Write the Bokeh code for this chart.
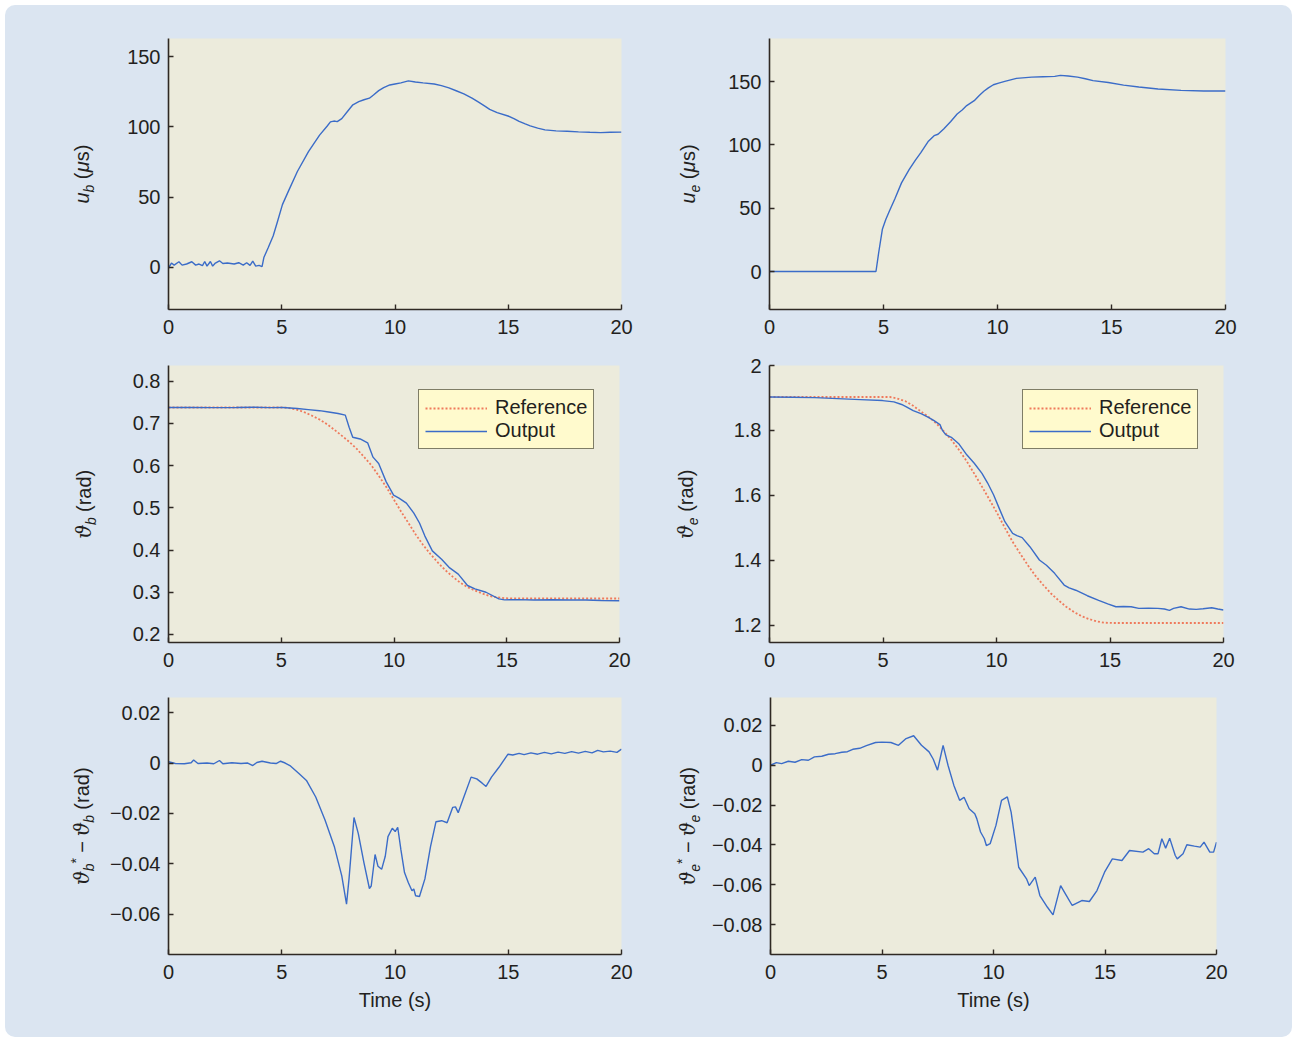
from math import pi

from bokeh.embed import file_html
from bokeh.layouts import column, row
from bokeh.models import (CustomJSTickFormatter, FixedTicker, Label, Legend,
                          LegendItem, Range1d)
from bokeh.plotting import figure
from bokeh.resources import INLINE

# ---------------------------------------------------------------- data
# control inputs (microseconds)
t_ub = [0.0, 0.13, 0.25, 0.46, 0.6, 0.8, 1.03, 1.2, 1.35, 1.5, 1.6, 1.7, 1.85, 1.95,
        2.05, 2.25, 2.4, 2.6, 2.9, 3.1, 3.3, 3.45, 3.6, 3.72, 3.85, 4.0, 4.13, 4.21,
        4.4, 4.62, 4.8, 5.03, 5.3, 5.69, 6.18, 6.67, 7.0, 7.15, 7.3, 7.45, 7.65, 7.9,
        8.14, 8.4, 8.63, 8.87, 9.05, 9.28, 9.5, 9.77, 10.0, 10.26, 10.59, 10.9, 11.24,
        11.73, 12.05, 12.38, 12.7, 13.04, 13.4, 13.69, 14.0, 14.18, 14.51, 14.99, 15.25,
        15.48, 15.75, 15.97, 16.3, 16.62, 17.11, 17.6, 18.1, 18.6, 19.08, 19.5, 20.0]
u_b = [-0.5, 3.1, 1.6, 4.0, 1.6, 2.4, 4.0, 1.6, 2.4, 1.2, 4.2, 0.9, 4.2, 0.9,
       2.8, 4.7, 2.8, 3.1, 2.4, 3.3, 1.6, 3.3, 1.4, 4.5, 0.9, 1.4, 0.5, 7.0,
       14.0, 22.4, 32.0, 44.7, 54.5, 68.3, 82.4, 94.2, 100.5, 103.6, 104.2, 103.8, 105.9, 111.0,
       115.8, 118.0, 119.4, 120.5, 122.8, 125.9, 128.0, 129.9, 130.6, 131.4, 132.8, 132.0, 131.4,
       130.6, 129.4, 127.8, 125.8, 123.6, 120.6, 117.7, 114.5, 112.5, 110.2, 107.8, 106.0,
       104.0, 102.2, 100.8, 99.2, 97.9, 97.2, 96.9, 96.5, 96.2, 96.0, 96.2, 96.3]

t_ue = [0.0, 4.67, 4.79, 4.95, 5.1, 5.26, 5.5, 5.79, 6.13, 6.4, 6.63, 6.97, 7.22, 7.39,
        7.64, 7.95, 8.23, 8.45, 8.65, 8.98, 9.2, 9.4, 9.6, 9.82, 10.05, 10.32, 10.83,
        11.5, 12.0, 12.51, 12.76, 13.1, 13.51, 13.85, 14.19, 14.86, 15.53, 16.2, 17.04,
        18.05, 19.05, 20.0]
u_e = [0.0, 0.0, 15.0, 33.3, 41.0, 47.8, 57.5, 70.0, 80.6, 88.0, 93.7, 102.9, 107.3, 108.4,
       112.6, 118.5, 124.4, 127.5, 131.0, 134.9, 139.0, 142.3, 145.0, 147.5, 148.8, 150.1, 152.5,
       153.5, 153.8, 154.1, 154.9, 154.4, 153.5, 152.2, 150.7, 149.3, 147.2, 145.7, 144.1,
       143.0, 142.5, 142.5]

# joint angles (rad): measured output and reference trajectory
t_thb = [0.0, 1.0, 2.0, 3.0, 3.8, 4.5, 5.06, 5.71, 6.2, 6.7, 7.1, 7.52, 7.84, 8.01, 8.17,
         8.5, 8.83, 9.07, 9.32, 9.65, 9.98, 10.22, 10.55, 10.88, 11.13, 11.37, 11.7, 12.11,
         12.44, 12.85, 13.26, 13.59, 14.08, 14.65, 14.9, 15.5, 16.2, 17.0, 17.8, 18.5, 19.2, 20.0]
th_b = [0.7375, 0.7378, 0.7372, 0.7376, 0.7382, 0.7372, 0.7375, 0.735, 0.7325, 0.730, 0.727,
        0.7234, 0.7195, 0.6906, 0.667, 0.663, 0.654, 0.620, 0.605, 0.562, 0.530, 0.523, 0.511,
        0.4875, 0.464, 0.433, 0.398, 0.378, 0.359, 0.343, 0.316, 0.308, 0.300, 0.2844, 0.282,
        0.2825, 0.2818, 0.2822, 0.2815, 0.2818, 0.2805, 0.2797]
t_thb_ref = [0.0, 5.0, 5.3, 5.71, 6.0, 6.37, 6.7, 7.03, 7.35, 7.68, 8.0, 8.34, 8.66, 8.99,
             9.32, 9.65, 9.98, 10.31, 10.64, 10.96, 11.29, 11.62, 11.95, 12.28, 12.6, 12.93,
             13.26, 13.59, 13.92, 14.24, 14.57, 14.9, 15.3, 20.0]
th_b_ref = [0.7375, 0.7375, 0.7368, 0.732, 0.727, 0.718, 0.709, 0.698, 0.685, 0.671, 0.657,
            0.640, 0.621, 0.601, 0.576, 0.550, 0.521, 0.4914, 0.464, 0.437, 0.412, 0.390, 0.370,
            0.352, 0.337, 0.323, 0.312, 0.304, 0.297, 0.291, 0.288, 0.286, 0.2852, 0.2852]

t_the = [0.0, 1.0, 2.0, 3.0, 4.0, 4.98, 5.48, 5.82, 6.05, 6.33, 6.7, 7.0, 7.25, 7.51, 7.62,
         7.76, 8.01, 8.35, 8.69, 9.02, 9.36, 9.61, 9.87, 10.12, 10.37, 10.71, 10.9, 11.13,
         11.47, 11.89, 12.2, 12.56, 12.98, 13.2, 13.49, 14.0, 14.5, 14.9, 15.26, 15.6, 15.93,
         16.27, 16.7, 17.11, 17.4, 17.62, 17.8, 18.13, 18.5, 18.8, 19.1, 19.48, 19.75, 20.0]
th_e = [1.903, 1.902, 1.901, 1.898, 1.895, 1.892, 1.888, 1.880, 1.872, 1.861, 1.851, 1.840,
        1.830, 1.818, 1.800, 1.787, 1.779, 1.758, 1.725, 1.699, 1.668, 1.638, 1.602, 1.560,
        1.519, 1.483, 1.476, 1.470, 1.442, 1.401, 1.385, 1.360, 1.324, 1.315, 1.308, 1.291,
        1.277, 1.266, 1.257, 1.258, 1.257, 1.252, 1.253, 1.252, 1.250, 1.246, 1.252, 1.257,
        1.250, 1.249, 1.251, 1.254, 1.250, 1.247]
t_the_ref = [0.0, 5.31, 5.6, 5.99, 6.33, 6.66, 7.0, 7.33, 7.67, 8.01, 8.35, 8.69, 9.02, 9.36,
             9.7, 10.03, 10.37, 10.71, 11.05, 11.38, 11.72, 12.06, 12.4, 12.73, 13.07, 13.41,
             13.75, 14.08, 14.42, 14.75, 15.2, 20.0]
th_e_ref = [1.903, 1.903, 1.899, 1.890, 1.876, 1.859, 1.842, 1.823, 1.798, 1.771, 1.740, 1.705,
            1.667, 1.627, 1.586, 1.545, 1.500, 1.457, 1.420, 1.385, 1.352, 1.324, 1.298, 1.277,
            1.257, 1.241, 1.228, 1.219, 1.212, 1.208, 1.207, 1.207]

# tracking errors (rad)
t_errb = [0.0, 0.3, 0.7, 1.0, 1.11, 1.3, 1.7, 2.0, 2.25, 2.4, 2.8, 3.2, 3.5, 3.72, 3.9, 4.13,
          4.5, 4.75, 4.95, 5.15, 5.36, 5.77, 6.09, 6.5, 6.91, 7.32, 7.65, 7.86, 7.97, 8.19,
          8.38, 8.63, 8.87, 8.95, 9.12, 9.25, 9.41, 9.57, 9.69, 9.88, 10.01, 10.12, 10.26,
          10.42, 10.59, 10.75, 10.83, 10.91, 11.08, 11.32, 11.57, 11.81, 12.06, 12.3, 12.55,
          12.67, 12.79, 13.04, 13.36, 13.61, 13.85, 14.02, 14.26, 14.59, 14.99, 15.2, 15.48,
          15.7, 16.0, 16.3, 16.6, 16.9, 17.2, 17.5, 17.8, 18.1, 18.4, 18.7, 18.95, 19.2, 19.5,
          19.8, 20.0]
err_b = [0.0005, -0.0002, -0.0003, 0.0001, 0.0012, -0.0002, 0.0, -0.0003, 0.001, -0.0003,
         0.0001, -0.0002, 0.0, -0.001, 0.0002, 0.0007, 0.0, -0.0002, 0.0007, 0.0, -0.001,
         -0.0043, -0.0069, -0.0135, -0.0226, -0.0331, -0.0448, -0.056, -0.046, -0.0216,
         -0.028, -0.0396, -0.0498, -0.0488, -0.0363, -0.041, -0.0422, -0.037, -0.0292, -0.0259,
         -0.0272, -0.0255, -0.0344, -0.0435, -0.0475, -0.0507, -0.05, -0.0527, -0.053, -0.046,
         -0.0331, -0.0233, -0.0229, -0.0237, -0.0176, -0.0174, -0.0197, -0.0135, -0.0056,
         -0.0063, -0.008, -0.0093, -0.0056, -0.0017, 0.0035, 0.0032, 0.0038, 0.0033, 0.004,
         0.0035, 0.0042, 0.0036, 0.0043, 0.0038, 0.0045, 0.0039, 0.0046, 0.004, 0.005, 0.0044,
         0.0047, 0.0042, 0.0055]

t_erre = [0.0, 0.26, 0.5, 0.8, 1.1, 1.4, 1.7, 1.97, 2.3, 2.6, 2.9, 3.2, 3.45, 3.69, 4.0, 4.3,
          4.71, 5.0, 5.4, 5.74, 6.08, 6.42, 6.77, 7.11, 7.3, 7.49, 7.62, 7.74, 7.96, 8.22, 8.48,
          8.68, 8.91, 9.16, 9.25, 9.42, 9.59, 9.68, 9.85, 10.11, 10.36, 10.62, 10.79, 10.96,
          11.13, 11.48, 11.6, 11.87, 12.08, 12.42, 12.67, 13.01, 13.27, 13.53, 13.96, 14.3,
          14.64, 14.98, 15.33, 15.76, 16.1, 16.7, 16.96, 17.21, 17.38, 17.55, 17.72, 17.9,
          18.15, 18.24, 18.5, 18.67, 19.01, 19.27, 19.44, 19.7, 19.87, 20.0]
err_e = [0.0, 0.0013, 0.0008, 0.002, 0.0015, 0.0028, 0.0025, 0.0042, 0.0045, 0.0055, 0.0058,
         0.0065, 0.0068, 0.008, 0.0085, 0.0098, 0.0114, 0.0116, 0.0114, 0.01, 0.0134, 0.0148,
         0.01, 0.0067, 0.003, -0.0025, 0.004, 0.01, 0.0, -0.01, -0.0176, -0.0161, -0.0218,
         -0.0243, -0.0268, -0.0335, -0.0369, -0.0403, -0.0394, -0.0302, -0.0176, -0.0159,
         -0.0235, -0.0369, -0.0512, -0.057, -0.0604, -0.0562, -0.0654, -0.0713, -0.0751,
         -0.0604, -0.0654, -0.0704, -0.0679, -0.0684, -0.0629, -0.0537, -0.047, -0.0478,
         -0.0428, -0.0436, -0.0419, -0.0444, -0.0444, -0.0369, -0.0416, -0.0366, -0.0453,
         -0.047, -0.0444, -0.0399, -0.0406, -0.0411, -0.0386, -0.0436, -0.0436, -0.0386]

x_ticks = [0, 5, 10, 15, 20]
y_ticks_u_b = [0, 50, 100, 150]
y_ticks_u_e = [0, 50, 100, 150]
y_ticks_th_b = [0.2, 0.3, 0.4, 0.5, 0.6, 0.7, 0.8]
y_ticks_th_e = [1.2, 1.4, 1.6, 1.8, 2.0]
y_ticks_err_b = [-0.06, -0.04, -0.02, 0, 0.02]
y_ticks_err_e = [-0.08, -0.06, -0.04, -0.02, 0, 0.02]

# ---------------------------------------------------------------- style
PANEL_BG = "#dbe5f1"
FRAME_BG = "#ecebdc"
LEGEND_BG = "#fffacd"
AXIS_C = "#2f2924"
TEXT_C = "#231f20"
OUT_C = "#3b6cc8"
REF_C = "#ef7a5c"
FONT = "Liberation Sans"
GREEK = "DejaVu Serif"
FS = 20

tick_fmt = CustomJSTickFormatter(code="""
const v = Math.abs(tick) < 1e-12 ? 0 : tick;
const s = String(parseFloat(v.toPrecision(6)));
return s.replace("-", "\u2212");
""")


def make_fig(width, height, left, right, top, bottom, yr, yticks):
    p = figure(width=width, height=height,
               min_border_left=left, min_border_right=right,
               min_border_top=top, min_border_bottom=bottom,
               x_range=Range1d(0, 20), y_range=Range1d(*yr),
               output_backend="svg", toolbar_location=None,
               background_fill_color=FRAME_BG, border_fill_alpha=0)
    p.outline_line_color = None
    p.grid.visible = False
    for ax in (p.xaxis[0], p.yaxis[0]):
        ax.axis_line_color = AXIS_C
        ax.axis_line_width = 1.6
        ax.major_tick_line_color = AXIS_C
        ax.major_tick_line_width = 1.4
        ax.major_tick_in = 5
        ax.major_tick_out = 0
        ax.minor_tick_line_color = None
        ax.major_label_text_font = FONT
        ax.major_label_text_font_size = f"{FS}px"
        ax.major_label_text_color = TEXT_C
        ax.formatter = tick_fmt
    p.xaxis.ticker = FixedTicker(ticks=x_ticks)
    p.yaxis.ticker = FixedTicker(ticks=yticks)
    p.xaxis.major_label_standoff = 10
    p.yaxis.major_label_standoff = 8
    return p


# advance widths (em) used to lay out the composed vertical axis titles
ADV = {"u": .556, "b": .556, "e": .556, "(": .333, ")": .333, "μ": .576, "s": .5,
       "r": .333, "a": .556, "d": .556, "*": .389, "−": .584, "ϑ": .66}
GAP = 0.278 * FS
MID = 0.3465          # em-box middle above the baseline


def title_strip(width, height, top, bottom, pieces, base_x):
    """Narrow canvas holding a vertical axis title built from rotated runs.

    Its frame spans the same rows as the neighbouring plot's frame, so the
    title is centred on that frame."""
    frame_h = height - top - bottom
    t = figure(width=width, height=height, min_border_left=0, min_border_right=0,
               min_border_top=top, min_border_bottom=bottom,
               x_range=Range1d(0, width), y_range=Range1d(0, frame_h),
               x_axis_type=None, y_axis_type=None, title=None,
               output_backend="svg", toolbar_location=None,
               border_fill_alpha=0, background_fill_alpha=0)
    t.outline_line_color = None
    widths = [GAP if txt is None else sum(ADV[c] for c in txt) * size
              for txt, size, shift, font, style in pieces]
    y = frame_h / 2 - sum(widths) / 2
    for (txt, size, shift, font, style), w in zip(pieces, widths):
        if txt is not None:
            # runs are anchored on their centre; "text up" points to -x once rotated
            t.add_layout(Label(x=base_x + shift - MID * size, y=y + w / 2,
                               x_units="data", y_units="data",
                               text=txt, angle=pi / 2, text_font=font,
                               text_font_style=style, text_font_size=f"{size}px",
                               text_color=TEXT_C, text_align="center",
                               text_baseline="middle"))
        y += w
    return t


def u_title(sub):
    return [("u", FS, 0, FONT, "italic"), (sub, 14, 5, FONT, "italic"),
            (None, 0, 0, None, None), ("(", FS, 0, FONT, "normal"),
            ("μ", FS, 0, FONT, "italic"), ("s)", FS, 0, FONT, "normal")]


def th_title(sub):
    return [("ϑ", FS, 0, GREEK, "italic"), (sub, 14, 5, FONT, "italic"),
            (None, 0, 0, None, None), ("(rad)", FS, 0, FONT, "normal")]


def err_title(sub):
    return [("ϑ", FS, 0, GREEK, "italic"), (sub, 14, 5, FONT, "italic"),
            ("*", 14, -8, FONT, "normal"), (None, 0, 0, None, None),
            ("−", FS, 0, FONT, "normal"), (None, 0, 0, None, None),
            ("ϑ", FS, 0, GREEK, "italic"), (sub, 14, 5, FONT, "italic"),
            (None, 0, 0, None, None), ("(rad)", FS, 0, FONT, "normal")]


def add_legend(p, ref_r, out_r, vx, vy):
    lg = Legend(items=[LegendItem(label="Reference", renderers=[ref_r]),
                       LegendItem(label="Output", renderers=[out_r])],
                location=(vx, vy), orientation="vertical",
                background_fill_color=LEGEND_BG, background_fill_alpha=1.0,
                border_line_color="#000000", border_line_width=1.8,
                label_text_font=FONT, label_text_font_size=f"{FS}px",
                label_text_color=TEXT_C, glyph_width=62, glyph_height=20,
                label_standoff=8, padding=6, spacing=0, margin=0)
    p.add_layout(lg)


# ---------------------------------------------------------------- panels
LW, RW = 95, 63          # widths of the title strips in each column

f1 = make_fig(640 - LW, 332, 68, 24, 31, 28, (-30, 163), y_ticks_u_b)
f1.line(t_ub, u_b, line_color=OUT_C, line_width=1.4)
s1 = title_strip(LW, 332, 31, 28, u_title("b"), 83)

f2 = make_fig(647 - RW, 332, 124 - RW, 67, 33, 27, (-30, 184), y_ticks_u_e)
f2.line(t_ue, u_e, line_color=OUT_C, line_width=1.4)
s2 = title_strip(RW, 332, 33, 27, u_title("e"), 49)

f3 = make_fig(640 - LW, 333, 68, 26, 27, 26, (0.181, 0.837), y_ticks_th_b)
r3 = f3.line(t_thb_ref, th_b_ref, line_color=REF_C, line_width=1.8, line_dash="2 2")
o3 = f3.line(t_thb, th_b, line_color=OUT_C, line_width=1.4)
add_legend(f3, r3, o3, 250, 193)
s3 = title_strip(LW, 333, 27, 26, th_title("b"), 85)

f4 = make_fig(647 - RW, 333, 124 - RW, 69, 28, 28, (1.147, 2.0), y_ticks_th_e)
r4 = f4.line(t_the_ref, th_e_ref, line_color=REF_C, line_width=1.8, line_dash="2 2")
o4 = f4.line(t_the, th_e, line_color=OUT_C, line_width=1.4)
add_legend(f4, r4, o4, 253, 193)
s4 = title_strip(RW, 333, 28, 28, th_title("e"), 47)

f5 = make_fig(640 - LW, 367, 68, 24, 24, 83, (-0.076, 0.026), y_ticks_err_b)
f5.line(t_errb, err_b, line_color=OUT_C, line_width=1.4)
s5 = title_strip(LW, 367, 24, 83, err_title("b"), 83)

f6 = make_fig(647 - RW, 367, 124 - RW, 76, 27, 83, (-0.095, 0.034), y_ticks_err_e)
f6.line(t_erre, err_e, line_color=OUT_C, line_width=1.4)
s6 = title_strip(RW, 367, 27, 83, err_title("e"), 49)

for f in (f5, f6):
    f.xaxis.axis_label = "Time (s)"
    f.xaxis.axis_label_text_font = FONT
    f.xaxis.axis_label_text_font_size = f"{FS}px"
    f.xaxis.axis_label_text_font_style = "normal"
    f.xaxis.axis_label_text_color = TEXT_C
    f.xaxis.axis_label_standoff = 7

page = column(row(s1, f1, s2, f2), row(s3, f3, s4, f4), row(s5, f5, s6, f6),
              styles={"background-color": PANEL_BG, "border-radius": "10px",
                      "margin-left": "5px", "margin-top": "5px",
                      "overflow": "hidden"})

with open("out.html", "w") as fh:
    fh.write(file_html(page, INLINE, title="Joint response"))
